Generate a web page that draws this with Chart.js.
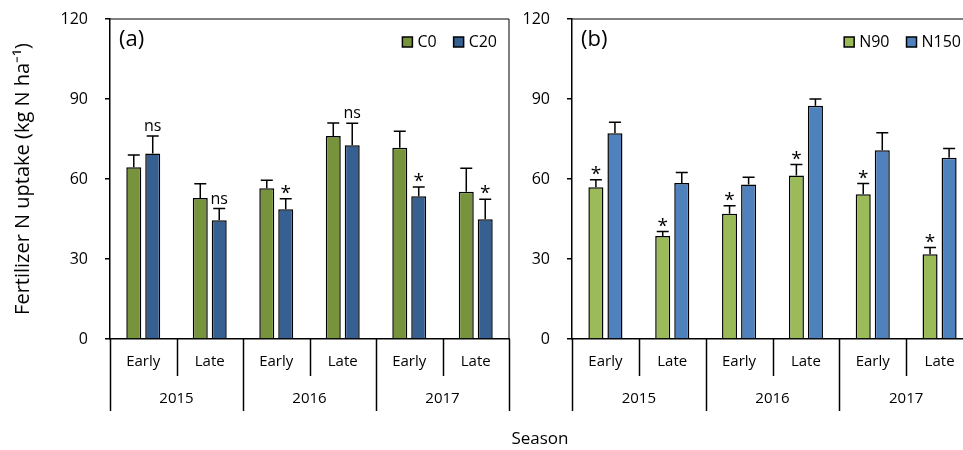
<!DOCTYPE html>
<html lang="en">
<head>
  <meta charset="UTF-8" />
  <title>Fertilizer N uptake</title>
  <script src="https://cdn.jsdelivr.net/npm/chart.js"></script>
  <style>
    body { margin: 0; width: 963px; height: 450px; overflow: hidden; background: #fff; position: relative; font-family: "Open Sans", sans-serif; }
    canvas { position: absolute; top: 0; }
    #chartA { left: 0; }
    #chartB { left: 510px; }
    #xTitle { position: absolute; left: 490px; top: 426px; width: 100px; text-align: center; font-size: 17px; color: #000; }
  </style>
</head>
<body>
  <canvas id="chartA" width="520" height="450"></canvas>
  <canvas id="chartB" width="480" height="450"></canvas>
  <div id="xTitle">Season</div>

  <script>
    // data
    const seasons = ['Early', 'Late', 'Early', 'Late', 'Early', 'Late'];
    const years = ['2015', '2016', '2017'];

    const c0 = [64.4, 52.9, 56.5, 76.1, 71.7, 55.2];
    const c0Err = [4.6, 5.3, 3.0, 4.9, 6.2, 8.8];
    const c20 = [69.6, 44.5, 48.7, 72.7, 53.5, 44.9];
    const c20Err = [6.5, 4.4, 3.9, 8.2, 3.5, 7.5];
    const sigA = ['ns', 'ns', '*', 'ns', '*', '*'];

    const n90 = [56.9, 38.6, 47.0, 61.3, 54.3, 31.8];
    const n90Err = [2.8, 1.7, 3.0, 4.1, 4.0, 2.5];
    const n150 = [77.2, 58.5, 57.9, 87.5, 70.8, 68.0];
    const n150Err = [4.1, 3.9, 2.8, 2.5, 6.5, 3.4];
    const sigB = ['*', '*', '*', '*', '*', '*'];

    const yTicks = [0, 30, 60, 90, 120];

    const FONT = '"Open Sans", sans-serif';
    Chart.defaults.font.family = FONT;
    Chart.defaults.color = '#000';

    // error bars, significance marks, legend, box, panel letter, year axis
    const extras = {
      id: 'extras',
      afterDatasetsDraw(chart, args, opts) {
        const ctx = chart.ctx;
        const x = chart.scales.x, y = chart.scales.y;
        const area = chart.chartArea;
        ctx.save();
        ctx.strokeStyle = '#000';
        ctx.fillStyle = '#000';
        ctx.lineWidth = 1.5;

        chart.data.datasets.forEach((ds, di) => {
          const meta = chart.getDatasetMeta(di);
          meta.data.forEach((bar, i) => {
            const top = y.getPixelForValue(ds.data[i] + ds.err[i]);
            ctx.beginPath();
            ctx.moveTo(bar.x, bar.y);
            ctx.lineTo(bar.x, top);
            ctx.moveTo(bar.x - 6, top);
            ctx.lineTo(bar.x + 6, top);
            ctx.stroke();
            if (ds.sig) {
              const s = ds.sig[i];
              ctx.font = (s === '*' ? '19px ' : '16px ') + FONT;
              ctx.textAlign = 'center';
              ctx.textBaseline = 'alphabetic';
              const desc = ctx.measureText(s).actualBoundingBoxDescent;
              ctx.fillText(s, bar.x, top - 5 - desc);
            }
          });
        });

        // legend, right aligned inside the box
        ctx.font = '16px ' + FONT;
        ctx.textAlign = 'left';
        ctx.textBaseline = 'middle';
        let lx = area.right - 12;
        const ly = area.top + 23;
        for (let k = chart.data.datasets.length - 1; k >= 0; k--) {
          const ds = chart.data.datasets[k];
          lx -= ctx.measureText(ds.label).width;
          ctx.fillStyle = '#000';
          ctx.fillText(ds.label, lx, ly);
          lx -= 15;
          ctx.fillStyle = ds.backgroundColor;
          ctx.fillRect(lx, ly - 5, 10, 10);
          ctx.lineWidth = 1.5;
          ctx.strokeRect(lx, ly - 5, 10, 10);
          lx -= 17;
        }
        ctx.fillStyle = '#000';

        // frame
        ctx.lineWidth = 1;
        ctx.beginPath();
        ctx.moveTo(area.left, area.top);
        ctx.lineTo(area.right, area.top);
        ctx.lineTo(area.right, area.bottom);
        ctx.stroke();

        // panel letter
        ctx.font = '22px ' + FONT;
        ctx.textAlign = 'left';
        ctx.textBaseline = 'middle';
        ctx.fillText(opts.letter, area.left + 9, area.top + 21);

        // category separators and year labels
        const n = seasons.length;
        const w = (x.right - x.left) / n;
        const base = area.bottom;
        ctx.lineWidth = 1.5;
        for (let i = 0; i <= n; i++) {
          const px = Math.round(x.left + i * w) + 0.5;
          ctx.beginPath();
          ctx.moveTo(px, base);
          ctx.lineTo(px, i % 2 === 0 ? base + 72 : base + 37);
          ctx.stroke();
        }
        ctx.font = '15px ' + FONT;
        ctx.textAlign = 'center';
        years.forEach((yr, k) => {
          ctx.fillText(yr, x.left + (2 * k + 1) * w, base + 60);
        });
        ctx.restore();
      }
    };

    function makeChart(id, names, colors, values, errs, sigIdx, sig, letter, yWidth, padRight, yTitle) {
      const datasets = names.map((name, k) => ({
        label: name,
        data: values[k],
        err: errs[k],
        sig: k === sigIdx ? sig : null,
        backgroundColor: colors[k],
        borderColor: '#000',
        borderWidth: 1.5,
        categoryPercentage: 0.57,
        barPercentage: 0.79
      }));
      return new Chart(document.getElementById(id), {
        type: 'bar',
        data: { labels: seasons, datasets: datasets },
        options: {
          responsive: false,
          animation: false,
          events: [],
          layout: { padding: { top: 19, right: padRight, left: 0, bottom: 0 } },
          plugins: {
            tooltip: { enabled: false },
            legend: { display: false },
            extras: { letter: letter }
          },
          scales: {
            x: {
              grid: { display: false, drawTicks: false },
              border: { color: '#000', width: 1.5 },
              ticks: { font: { size: 15 }, padding: 14, color: '#000' },
              afterFit(s) { s.height = 111; s.paddingLeft = 0; s.paddingRight = 0; }
            },
            y: {
              min: 0,
              max: 120,
              afterBuildTicks(s) { s.ticks = yTicks.map(v => ({ value: v })); },
              grid: { drawOnChartArea: false, tickLength: 5, color: '#000', lineWidth: 1.5 },
              border: { color: '#000', width: 1.5 },
              ticks: { font: { size: 16 }, padding: 17, color: '#000' },
              title: {
                display: !!yTitle,
                text: yTitle || '',
                font: { size: 20 },
                color: '#000',
                padding: { top: 11, bottom: 0 }
              },
              afterFit(s) { s.width = yWidth; s.paddingTop = 0; s.paddingBottom = 0; }
            }
          }
        },
        plugins: [extras]
      });
    }

    makeChart('chartA', ['C0', 'C20'], ['#77933C', '#376092'],
      [c0, c20], [c0Err, c20Err], 1, sigA, '(a)', 110, 11,
      'Fertilizer N uptake (kg N ha\u207B\u00B9)');

    makeChart('chartB', ['N90', 'N150'], ['#9BBB59', '#4F81BD'],
      [n90, n150], [n90Err, n150Err], 0, sigB, '(b)', 62, 17, null);
  </script>
</body>
</html>
